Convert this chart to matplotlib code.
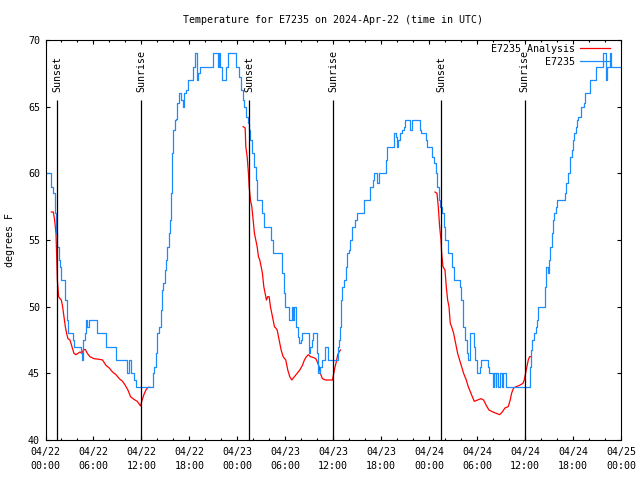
import pandas as pd
import matplotlib
matplotlib.use('Agg')
import matplotlib.pyplot as plt
import matplotlib.dates as mdates

plt.rcParams['font.family'] = 'DejaVu Sans Mono'
plt.rcParams['font.size'] = 7.2

start = pd.Timestamp('2024-04-22 00:00')

# E7235 observations (hours after start, degrees F), step changes
obs_hours = [0.0, 0.64, 0.89, 1.14, 1.31, 1.48, 1.64, 1.81, 1.98, 2.4, 2.64, 2.81,
             3.4, 3.56, 4.4, 4.56, 4.73, 4.9, 5.06, 5.23, 5.4, 6.4, 7.56, 8.81,
             10.23, 10.48, 10.73, 11.06, 11.31,
             13.39, 13.56, 13.81, 13.98, 14.23, 14.4, 14.56, 14.73, 14.89, 15.06,
             15.23, 15.39, 15.56, 15.73, 15.81, 15.98, 16.14, 16.31, 16.48, 16.64,
             16.98, 17.14, 17.31, 17.56, 17.81, 18.48, 18.73, 18.98, 19.14, 19.31,
             20.98, 21.56, 21.73, 21.89, 22.06, 22.64, 22.89, 23.81,
             24.23, 24.48, 24.73, 24.89, 25.06, 25.31, 25.48, 25.64, 25.81, 26.06,
             26.31, 26.48, 27.14, 27.39, 28.23, 28.48, 29.64, 29.81, 29.98, 30.48,
             30.81, 30.98, 31.06, 31.39, 31.56, 31.73, 31.98, 32.14, 32.98, 33.14,
             33.31, 33.48, 33.98, 34.14, 34.31, 34.56, 34.98, 35.31,
             36.56, 36.73, 36.89, 36.98, 37.14, 37.31, 37.56, 37.73, 37.98, 38.14,
             38.31, 38.73, 38.98, 39.81, 40.64, 40.98, 41.14, 41.48, 41.73, 42.56,
             42.73, 43.64, 43.81, 43.98, 44.14, 44.39, 44.64, 44.81, 44.98, 45.64,
             45.81, 46.81, 46.98, 47.56, 47.73,
             48.39, 48.64, 48.81, 48.98, 49.23, 49.39, 49.64, 49.81, 49.98, 50.39,
             50.89, 51.14, 51.89, 51.98, 52.23, 52.48, 52.73, 52.89, 53.06, 53.14,
             53.56, 53.73, 53.98, 54.31, 54.48, 55.31, 55.48, 55.98, 56.14, 56.31,
             56.39, 56.64, 56.81, 57.06, 57.23, 57.64,
             60.56, 60.73, 60.89, 61.06, 61.31, 61.48, 61.64, 62.48, 62.64, 62.81,
             62.98, 63.14, 63.31, 63.48, 63.64, 63.81, 63.98, 64.98, 65.14, 65.39,
             65.56, 65.81, 65.98, 66.14, 66.31, 66.48, 66.64, 66.98, 67.31, 67.48,
             68.14, 68.89, 69.81, 70.14, 70.31, 70.64, 70.81, 72.0]
obs_temps = [60, 59, 58.5, 57, 55.5, 54.5, 53.5, 53, 52, 50.5, 49, 48,
             47.5, 47, 46.5, 46, 47.5, 48, 49, 48.5, 49, 48, 47, 46,
             45, 46, 45, 44.5, 44,
             45, 45.5, 46.5, 48, 48.5, 49.75, 51.25, 51.75, 52.75, 53.5,
             54.5, 55.5, 56.5, 58.5, 61.5, 63.25, 64, 64.1, 65.25, 66,
             65.5, 65, 66, 66.25, 67, 68, 69, 67, 67.5, 68,
             69, 68, 69, 68, 67, 68, 69, 68,
             67.25, 66.25, 65.5, 65, 64.25, 63.75, 63.25, 62.5, 61.5, 60.5,
             59.5, 58, 57, 56, 55, 54, 52.5, 51, 50, 49,
             50, 49, 50, 48.5, 47.75, 47.25, 47.5, 48, 46.5, 47,
             47.5, 48, 46.5, 45, 45.5, 46, 47, 46,
             47, 47.5, 48.5, 50.5, 51.5, 52, 53, 54, 54.25, 55,
             56, 56.5, 57, 58, 59, 59.5, 60, 59.25, 60, 61,
             62, 63, 62.75, 62, 62.5, 63, 63.25, 63.5, 64, 63.25,
             64, 63.25, 63, 62.5, 62,
             61.25, 60.75, 60, 59, 58, 57.5, 57, 56, 55, 54,
             53, 52, 51.5, 50.5, 48.5, 47.5, 46.5, 46, 47, 48,
             47, 46, 45, 45.5, 46, 45.5, 45, 44, 45, 44,
             45, 44, 45, 44, 45, 44,
             45.5, 46.75, 47.5, 48, 48.5, 49, 50, 51.5, 53, 52.5,
             53.5, 54.5, 55.5, 56.5, 57, 57.5, 58, 58.5, 59.25, 60,
             61.25, 61.75, 62.5, 63, 63.5, 64, 64.25, 65, 65.25, 66,
             67, 68, 69, 67, 68, 69, 68, 68]

# E7235 Analysis, three overnight segments
ana_hours = [[0.73, 0.98, 1.14, 1.31, 1.39, 1.48, 1.64, 1.81, 1.98, 2.14, 2.31, 2.48,
              2.64, 2.81, 3.06, 3.31, 3.56, 3.81, 4.06, 4.31, 4.56, 4.73, 4.98, 5.23,
              5.56, 6.06, 6.73, 7.14, 7.56, 7.98, 8.39, 8.81, 9.23, 9.64, 9.98, 10.31,
              10.64, 11.06, 11.48, 11.9, 12.06, 12.31, 12.56, 12.81, 13.06],
             [24.73, 24.98, 25.06, 25.23, 25.39, 25.48, 25.64, 25.81, 25.98, 26.14,
              26.31, 26.48, 26.64, 26.81, 26.98, 27.14, 27.31, 27.48, 27.64, 27.81,
              27.98, 28.14, 28.31, 28.48, 28.64, 28.81, 28.98, 29.23, 29.48, 29.73,
              30.06, 30.31, 30.56, 30.81, 31.14, 31.48, 31.81, 32.14, 32.39, 32.64,
              32.89, 33.14, 33.48, 33.81, 33.98, 34.23, 34.39, 34.64, 35.06, 35.56,
              35.9, 36.06, 36.23, 36.4, 36.56, 36.73, 36.9],
             [48.73, 48.98, 49.14, 49.31, 49.48, 49.56, 49.73, 49.98, 50.14, 50.31,
              50.48, 50.64, 50.81, 51.06, 51.31, 51.56, 51.81, 52.06, 52.31, 52.64,
              52.89, 53.23, 53.64, 54.06, 54.48, 54.81, 55.14, 55.48, 55.98, 56.39,
              56.81, 57.14, 57.48, 57.89, 58.14, 58.31, 58.56, 58.89, 59.31, 59.73,
              59.9, 60.06, 60.23, 60.4, 60.56, 60.8]]
ana_temps = [[57.1, 57.1, 56.5, 55.5, 54, 52, 50.75, 50.6, 50.5, 50, 49.25, 48.5,
              48, 47.6, 47.5, 47, 46.5, 46.4, 46.5, 46.6, 46.5, 46.75, 46.8, 46.5,
              46.25, 46.1, 46.05, 46, 45.6, 45.4, 45.1, 44.9, 44.6, 44.4, 44.1, 43.75,
              43.25, 43.05, 42.9, 42.55, 42.95, 43.4, 43.75, 43.95, 43.95],
             [63.5, 63.4, 62, 61.25, 60, 59, 58, 57.5, 56.5, 55.5,
              55, 54.5, 53.75, 53.5, 53, 52.5, 51.5, 51, 50.5, 50.75,
              50.75, 50, 49.5, 49, 48.5, 48.4, 48.25, 47.5, 46.75, 46.25,
              46, 45.25, 44.75, 44.5, 44.75, 45, 45.25, 45.6, 46, 46.25,
              46.4, 46.25, 46.2, 46.1, 45.9, 45.5, 45, 44.6, 44.5, 44.5,
              44.5, 45, 45.5, 45.9, 46.4, 46.6, 46.75],
             [58.6, 58.5, 57.5, 56, 55, 54, 53, 52.75, 51.5, 50.5,
              50, 48.75, 48.5, 48, 47.25, 46.5, 46, 45.5, 45, 44.5,
              44, 43.5, 42.9, 43, 43.1, 43, 42.6, 42.25, 42.1, 42,
              41.9, 42.1, 42.4, 42.5, 43, 43.5, 43.9, 44, 44.1, 44.25,
              44.5, 45, 45.5, 46, 46.25, 46.25]]

sunsets = ['2024-04-22 01:28', '2024-04-23 01:29', '2024-04-24 01:30']
sunrises = ['2024-04-22 12:00', '2024-04-23 12:00', '2024-04-24 11:58']

fig = plt.figure(figsize=(6.4, 4.8), dpi=100)
ax = fig.add_axes([45.5 / 640, 40 / 480, 575.5 / 640, 400 / 480])

for i, (h, t) in enumerate(zip(ana_hours, ana_temps)):
    tt = start + pd.to_timedelta(h, unit='h')
    ax.plot(tt, t, color='#ff0000', lw=0.9,
            label='E7235 Analysis' if i == 0 else None)

obs_t = start + pd.to_timedelta(obs_hours, unit='h')
ax.plot(obs_t, obs_temps, color='#1a8cff', lw=0.9, drawstyle='steps-post',
        label='E7235')

for s in sunsets:
    ax.vlines(pd.Timestamp(s), 40, 65.5, color='black', lw=0.9, zorder=5)
    ax.text(pd.Timestamp(s), 66.1, 'Sunset', rotation=90, ha='center', va='bottom')
for s in sunrises:
    ax.vlines(pd.Timestamp(s), 40, 65.5, color='black', lw=0.9, zorder=5)
    ax.text(pd.Timestamp(s), 66.1, 'Sunrise', rotation=90, ha='center', va='bottom')

ax.set_xlim(start, pd.Timestamp('2024-04-25 00:00'))
ax.set_ylim(40, 70)
ax.set_yticks([40, 45, 50, 55, 60, 65, 70])
ax.xaxis.set_major_locator(mdates.HourLocator(byhour=[0, 6, 12, 18]))
ax.xaxis.set_minor_locator(mdates.HourLocator(byhour=range(0, 24, 2)))
ax.xaxis.set_major_formatter(mdates.DateFormatter('%m/%d\n%H:%M'))
ax.tick_params(which='both', direction='in', top=True, right=True, width=0.8)
ax.tick_params(which='major', length=3, labelsize=7.2)
ax.tick_params(which='minor', length=1.6)
ax.tick_params(axis='x', pad=5)
ax.tick_params(axis='y', pad=4)
for lbl in ax.get_xticklabels():
    lbl.set_linespacing(1.45)
for sp in ax.spines.values():
    sp.set_linewidth(0.8)

ax.legend(loc='upper right', bbox_to_anchor=((610 - 45.5) / 575.5, 0.99),
          frameon=False, markerfirst=False, borderpad=0, borderaxespad=0,
          handlelength=3.0, handletextpad=0.5, labelspacing=0.3)

fig.text(333 / 640, 1 - 20 / 480, 'Temperature for E7235 on 2024-Apr-22 (time in UTC)',
         ha='center', va='center')
fig.text(10 / 640, 0.5, 'degrees F', rotation=90, ha='center', va='center')

plt.savefig('out.png')
plt.close()
